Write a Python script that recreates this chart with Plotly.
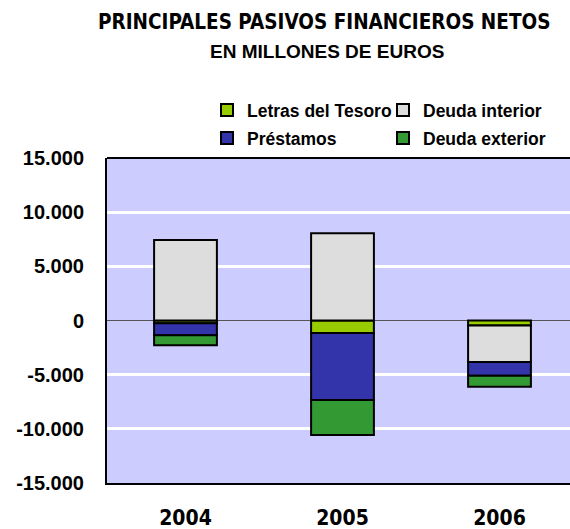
import plotly.graph_objects as go

categories = ["2004", "2005", "2006"]
letras = [-250, -1150, -450]
deuda_interior = [7430, 8050, -3380]
prestamos = [-1120, -6190, -1260]
deuda_exterior = [-920, -3230, -1020]
y_ticks = [15000, 10000, 5000, 0, -5000, -10000, -15000]
y_tick_labels = ["15.000", "10.000", "5.000", "0", "-5.000", "-10.000", "-15.000"]

W, H = 570, 529
L, R, T, B = 107, 0, 158, 529 - 483
pw, ph = W - L - R, H - T - B
cat_w = 157.0  # px per category in the reference
x_end = -0.5 + pw / cat_w

def px(x):
    return (x - L) / pw

def py(y):
    return (H - B - y) / ph

line = dict(color="black", width=2)
fig = go.Figure()
fig.add_bar(name="Letras del Tesoro", x=categories, y=letras, marker=dict(color="#99CC00", line=line), legend="legend", width=0.4)
fig.add_bar(name="Deuda interior", x=categories, y=deuda_interior, marker=dict(color="#DDDDDD", line=line), legend="legend", width=0.4)
fig.add_bar(name="Préstamos", x=categories, y=prestamos, marker=dict(color="#3333AA", line=line), legend="legend2", width=0.4)
fig.add_bar(name="Deuda exterior", x=categories, y=deuda_exterior, marker=dict(color="#339933", line=line), legend="legend2", width=0.4)

legfont = dict(family="Liberation Sans, Arial", size=17.5, color="black", weight="bold")
legcommon = dict(orientation="h", xanchor="left", yanchor="middle", font=legfont,
                 xref="container", yref="container",
                 bgcolor="rgba(0,0,0,0)", entrywidth=131, traceorder="normal",
                 itemclick=False, tracegroupgap=0)

fig.update_layout(
    width=W, height=H,
    margin=dict(l=L, r=R, t=T, b=B, pad=0, autoexpand=False),
    paper_bgcolor="white", plot_bgcolor="#CCCCFF",
    barmode="relative", bargap=0.6,
    showlegend=True,
    legend=dict(x=207 / W, y=1 - 110 / H, **legcommon),
    legend2=dict(x=207 / W, y=1 - 138 / H, **legcommon),
    xaxis=dict(range=[-0.5, x_end], showline=True, linecolor="black", linewidth=2, mirror=False,
               showgrid=False, ticks="", ticklabelstandoff=15, automargin=False,
               tickfont=dict(family="DejaVu Sans Condensed, DejaVu Sans", size=21, color="black", weight="bold")),
    yaxis=dict(range=[-15000, 15000], tickvals=y_ticks, ticktext=y_tick_labels,
               showline=True, linecolor="black", linewidth=2, mirror=False,
               showgrid=True, gridcolor="white", gridwidth=3,
               zeroline=True, zerolinecolor="#555555", zerolinewidth=1,
               ticks="", ticklabelstandoff=17, automargin=False,
               tickfont=dict(family="Liberation Sans, Arial", size=20, color="black", weight="bold")),
    shapes=[dict(type="line", xref="paper", yref="paper", x0=0, x1=1, y0=1, y1=1,
                 line=dict(color="black", width=2), layer="above")],
    annotations=[
        dict(text="PRINCIPALES PASIVOS FINANCIEROS NETOS", xref="paper", yref="paper",
             x=px(324), y=py(22), showarrow=False, xanchor="center", yanchor="middle",
             font=dict(family="DejaVu Sans Condensed, DejaVu Sans", size=20.5, color="black", weight="bold")),
        dict(text="EN MILLONES DE EUROS", xref="paper", yref="paper",
             x=px(327), y=py(51), showarrow=False, xanchor="center", yanchor="middle",
             font=dict(family="Liberation Sans, Arial", size=19, color="black", weight="bold")),
    ],
)

fig.write_html("out.html", config={"displayModeBar": False},
               post_script="document.body.style.margin='0';document.body.style.overflow='hidden';")
